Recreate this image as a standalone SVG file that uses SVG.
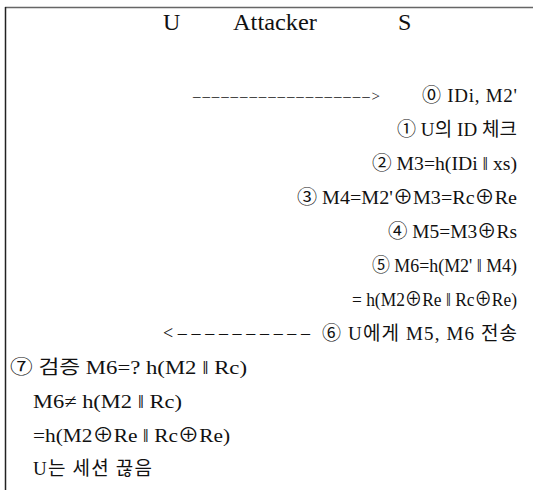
<svg xmlns="http://www.w3.org/2000/svg" width="533" height="490" viewBox="0 0 533 490">
<style>
text{font-family:"Liberation Serif","Noto Sans CJK KR",serif;fill:#111;font-size:19px}
.h{font-size:24px}
.a1{font-size:15px}
.a2{font-size:18px}
</style>
<rect width="533" height="490" fill="#fff"/>
<g id="frame">
<line x1="5" y1="7.5" x2="533" y2="7.5" stroke="#666" stroke-width="1.5"/>
<line x1="5.5" y1="7" x2="5.5" y2="490" stroke="#222" stroke-width="1.5"/>
</g>
<g id="header">
<text id="U" class="h" x="163" y="30">U</text>
<text id="Attacker" class="h" x="233" y="30" textLength="84" lengthAdjust="spacingAndGlyphs">Attacker</text>
<text id="S" class="h" x="398" y="30">S</text>
</g>
<g id="connectors">
<text id="arrow1" class="a1" x="193" y="101" textLength="187" lengthAdjust="spacing">–––––––––––––––––––&gt;</text>
<text id="arrow2" class="a2" x="163" y="339" textLength="147" lengthAdjust="spacing">&lt;––––––––––</text>
</g>
<g id="server-steps">
<text x="422" y="102" textLength="95" lengthAdjust="spacing">⓪ IDi, M2'</text>
<text x="397" y="136" textLength="120" lengthAdjust="spacing">① U의 ID 체크</text>
<text x="372" y="170" textLength="145" lengthAdjust="spacingAndGlyphs">② M3=h(IDi ‖ xs)</text>
<text x="297" y="204" textLength="220" lengthAdjust="spacingAndGlyphs">③ M4=M2'⊕M3=Rc⊕Re</text>
<text x="388" y="238" textLength="129" lengthAdjust="spacingAndGlyphs">④ M5=M3⊕Rs</text>
<text x="372" y="272" textLength="145" lengthAdjust="spacingAndGlyphs">⑤ M6=h(M2' ‖ M4)</text>
<text x="352" y="306" textLength="165" lengthAdjust="spacingAndGlyphs">= h(M2⊕Re ‖ Rc⊕Re)</text>
<text x="322" y="340" textLength="195" lengthAdjust="spacing">⑥ U에게 M5, M6 전송</text>
</g>
<g id="user-steps">
<text x="10" y="374" textLength="237" lengthAdjust="spacingAndGlyphs">⑦ 검증 M6=? h(M2 ‖ Rc)</text>
<text x="33" y="408" textLength="149" lengthAdjust="spacingAndGlyphs">M6≠ h(M2 ‖ Rc)</text>
<text x="33" y="442" textLength="197" lengthAdjust="spacingAndGlyphs">=h(M2⊕Re ‖ Rc⊕Re)</text>
<text x="33" y="475" textLength="119" lengthAdjust="spacing">U는 세션 끊음</text>
</g>
</svg>
